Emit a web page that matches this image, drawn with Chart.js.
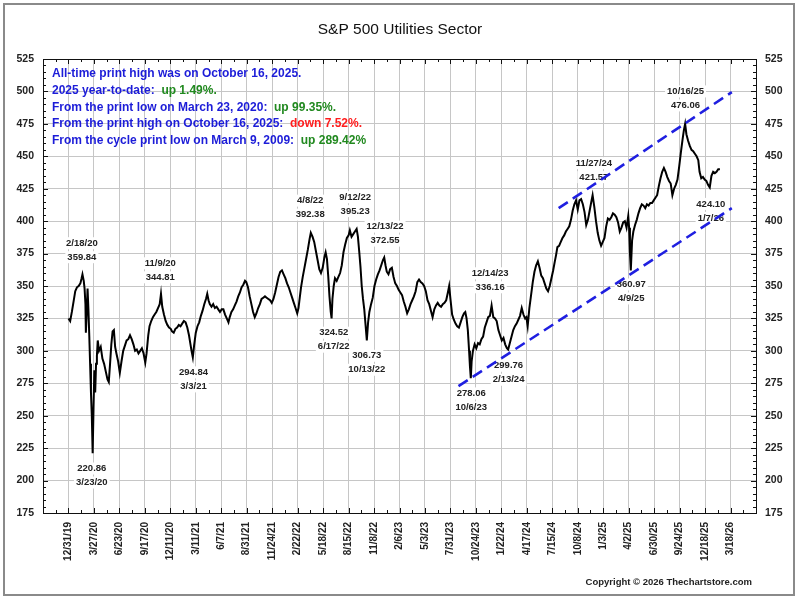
<!DOCTYPE html>
<html>
<head>
  <meta charset="utf-8">
  <title>S&amp;P 500 Utilities Sector</title>
  <script src="https://cdn.jsdelivr.net/npm/chart.js"></script>
  <style>
    html, body { margin: 0; padding: 0; background: #fff; }
    #wrap { position: relative; width: 798px; height: 598px; }
  </style>
</head>
<body>
<div id="wrap"><canvas id="chart"></canvas></div>
<script>
const FONT = '"Liberation Sans", Arial, sans-serif';

// one axis label every 60 trading days, first one is 12/31/19 (day 0)
const tickLabels = ['12/31/19', '3/27/20', '6/23/20', '9/17/20', '12/11/20', '3/11/21', '6/7/21',
  '8/31/21', '11/24/21', '2/22/22', '5/18/22', '8/15/22', '11/8/22', '2/6/23', '5/3/23',
  '7/31/23', '10/24/23', '1/22/24', '4/17/24', '7/15/24', '10/8/24', '1/3/25', '4/2/25',
  '6/30/25', '9/24/25', '12/18/25', '3/18/26'];

// index level (x = trading days since 12/31/19)
const tradingDay = [
  0, 4, 8, 12, 16, 20, 24, 28, 31, 33, 36, 38, 40, 41, 43, 45, 47, 49, 51, 53, 55, 57, 59, 61, 63, 65, 67, 69,
  72, 76, 80, 84, 88, 92, 95, 98, 101, 104, 107, 110, 113, 117, 121, 125, 129, 133, 137, 141, 145, 149, 153,
  157, 161, 165, 169, 173, 177, 181, 184, 188, 191, 195, 199, 203, 207, 211, 215, 218, 221, 225, 229, 233,
  237, 241, 244, 248, 252, 256, 260, 264, 268, 272, 276, 280, 284, 287, 290, 293, 296, 300, 304, 308, 312,
  316, 320, 324, 327, 330, 333, 337, 341, 345, 349, 353, 357, 361, 365, 369, 373, 377, 380, 384, 388, 392,
  396, 400, 404, 408, 412, 416, 419, 423, 427, 431, 435, 439, 443, 447, 451, 455, 459, 463, 467, 471, 475,
  479, 483, 487, 491, 495, 499, 503, 507, 511, 515, 519, 523, 527, 531, 535, 539, 542, 545, 548, 552, 556,
  560, 564, 568, 571, 575, 579, 583, 587, 591, 595, 599, 603, 606, 609, 612, 615, 618, 620, 622, 625, 628,
  632, 636, 640, 644, 648, 652, 656, 660, 663, 667, 671, 675, 679, 682, 685, 688, 691, 694, 697, 700, 703,
  706, 709, 713, 717, 721, 725, 729, 733, 737, 741, 744, 747, 750, 754, 758, 762, 766, 770, 774, 778, 782,
  786, 790, 794, 798, 802, 806, 810, 814, 818, 822, 826, 830, 834, 838, 842, 846, 850, 854, 858, 862, 866,
  870, 874, 878, 882, 886, 890, 894, 897, 900, 904, 908, 912, 916, 920, 924, 928, 932, 935, 938, 941, 944,
  946, 948, 950, 953, 957, 961, 965, 969, 973, 977, 981, 985, 989, 993, 997, 1001, 1005, 1009, 1013, 1017,
  1021, 1025, 1029, 1033, 1036, 1040, 1044, 1048, 1052, 1056, 1060, 1064, 1068, 1072, 1076, 1079, 1082,
  1086, 1090, 1094, 1098, 1102, 1106, 1110, 1114, 1118, 1122, 1126, 1130, 1134, 1138, 1142, 1146, 1149,
  1152, 1156, 1160, 1164, 1168, 1172, 1176, 1180, 1184, 1188, 1192, 1196, 1200, 1204, 1208, 1212, 1216,
  1220, 1224, 1228, 1232, 1235, 1239, 1243, 1247, 1251, 1255, 1259, 1263, 1267, 1271, 1275, 1279, 1283,
  1287, 1291, 1295, 1299, 1303, 1307, 1311, 1315, 1319, 1321, 1323, 1325, 1328, 1331, 1335, 1339, 1343,
  1347, 1351, 1355, 1359, 1363, 1367, 1371, 1375, 1379, 1383, 1387, 1391, 1395, 1399, 1403, 1407, 1411,
  1415, 1419, 1423, 1427, 1431, 1435, 1439, 1443, 1447, 1450, 1453, 1456, 1460, 1464, 1468, 1472, 1476,
  1480, 1484, 1487, 1491, 1495, 1499, 1503, 1507, 1511, 1515, 1519, 1523, 1527, 1531, 1535
];
const indexLevel = [
  325, 323, 330, 338, 346, 349, 350, 352, 356, 359, 354, 348, 336, 314, 330, 348, 332, 312, 290, 268, 250, 221, 255, 285, 268, 290, 296, 308,
  300, 303, 294, 290, 284, 278, 276, 290, 305, 315, 316, 303, 298, 292, 283, 292, 300, 304, 308, 309, 312, 309, 305,
  300, 301, 298, 300, 302, 298, 291, 298, 312, 319, 323, 326, 328, 330, 333, 336, 344, 334, 328, 323, 320,
  318, 317, 315, 314, 317, 318, 320, 319, 321, 323, 322, 318, 312, 306, 300, 295, 304, 314, 319, 322, 327,
  331, 336, 340, 344, 339, 336, 334, 336, 333, 334, 332, 330, 332, 332, 328, 325, 322, 326, 330, 332, 335,
  338, 342, 345, 349, 351, 354, 353, 349, 342, 336, 330, 326, 329, 333, 336, 340, 341, 342, 341, 340, 339,
  337, 340, 345, 351, 357, 361, 362, 359, 356, 352, 349, 345, 341, 337, 333, 329, 333, 341, 349, 357, 364,
  371, 378, 386, 391, 388, 384, 377, 370, 363, 360, 364, 372, 376, 371, 358, 342, 330, 325, 340, 350, 356,
  354, 357, 360, 366, 376, 382, 387, 389, 393, 388, 390, 392, 394, 388, 377, 365, 350, 340, 332, 320, 308,
  322, 330, 336, 341, 350, 355, 359, 362, 366, 370, 372, 366, 361, 359, 363, 364, 357, 352, 350, 347, 345,
  343, 338, 334, 329, 332, 336, 339, 342, 346, 353, 355, 353, 352, 350, 346, 339, 336, 331, 326, 332, 335,
  337, 335, 334, 336, 337, 339, 345, 350, 340, 328, 324, 321, 319, 318, 322, 326, 329, 330, 325, 316, 300,
  288, 279, 292, 300, 305, 302, 306, 305, 309, 311, 318, 322, 326, 327, 335, 326, 325, 323, 316, 312,
  308, 310, 305, 302, 301, 306, 311, 316, 319, 321, 324, 327, 333, 328, 325, 326, 319,
  333, 343, 353, 361, 366, 369, 364, 358, 356, 352, 348, 346, 350, 356, 362, 369, 374,
  380, 381, 384, 387, 389, 392, 394, 396, 401, 408, 413, 416, 409, 416, 417, 413, 407,
  397, 401, 408, 415, 420, 411, 400, 391, 385, 381, 384, 387, 396, 402, 401, 403, 406,
  405, 403, 399, 392, 395, 399, 400, 395, 404, 395, 375, 362, 385, 392, 397, 401, 406,
  410, 413, 412, 410, 413, 412, 414, 414, 416, 418, 420, 427, 433, 438, 441, 438, 434,
  431, 429, 420, 425, 428, 432, 442, 453, 463, 470, 475, 467, 462, 458, 455, 454, 452,
  450, 447, 438, 433, 434, 432, 431, 428, 426, 435, 438, 437, 438, 440, 440
];

// blue dashed channel
const lowerTrendDay = [919, 1563];
const lowerTrendLevel = [272.8, 410];
const upperTrendDay = [1155, 1563];
const upperTrendLevel = [410, 499.5];

// notes: anchor (day, level) is the centre of the first text line
const noteDay =   [31.6, 55, 216.4, 294.6, 569.5, 675.5, 746, 625, 703, 993.6, 949, 1037, 1238, 1326, 1454, 1513.6];
const noteLevel = [383, 209.3, 367.5, 283.4, 415.8, 418.5, 395.8, 314, 296.2, 359.8, 267.2, 288.5, 444.7, 351.2, 500, 413.3];
const noteTop =    ['2/18/20', '220.86', '11/9/20', '294.84', '4/8/22', '9/12/22', '12/13/22', '324.52', '306.73',
  '12/14/23', '278.06', '299.76', '11/27/24', '360.97', '10/16/25', '424.10'];
const noteBottom = ['359.84', '3/23/20', '344.81', '3/3/21', '392.38', '395.23', '372.55', '6/17/22', '10/13/22',
  '336.16', '10/6/23', '2/13/24', '421.57', '4/9/25', '476.06', '1/7/26'];

const infoLines = [
  [['All-time print high was on October 16, 2025.', 'blue']],
  [['2025 year-to-date:  ', 'blue'], ['up 1.49%.', 'green']],
  [['From the print low on March 23, 2020:  ', 'blue'], ['up 99.35%.', 'green']],
  [['From the print high on October 16, 2025:  ', 'blue'], ['down 7.52%.', 'red']],
  [['From the cycle print low on March 9, 2009:  ', 'blue'], ['up 289.42%', 'green']]
];
const infoColors = { blue: '#1c1cd8', green: '#21891f', red: '#ff1c1c' };

const DAYS_PER_TICK = 60;

const toPoints = (xs, ys) => xs.map((d, i) => ({ x: d, y: ys[i] }));

const decor = {
  id: 'decor',
  beforeDatasetsDraw(chart) {
    const { ctx, scales } = chart;
    ctx.save();
    ctx.font = 'bold 9.5px ' + FONT;
    ctx.textAlign = 'center';
    ctx.textBaseline = 'middle';
    noteDay.forEach((d, i) => {
      const px = scales.x.getPixelForValue(d);
      const py = scales.y.getPixelForValue(noteLevel[i]);
      [noteTop[i], noteBottom[i]].forEach((t, k) => {
        const ty = py + k * 14;
        const w = ctx.measureText(t).width;
        ctx.fillStyle = '#fff';
        ctx.fillRect(px - w / 2 - 2, ty - 6, w + 4, 12);
        ctx.fillStyle = '#222';
        ctx.fillText(t, px, ty);
      });
    });
    ctx.restore();
  },
  afterDraw(chart) {
    const { ctx, chartArea: a, scales } = chart;
    ctx.save();

    // plot frame
    ctx.strokeStyle = '#111';
    ctx.lineWidth = 1;
    ctx.strokeRect(Math.round(a.left) + 0.5, Math.round(a.top) + 0.5,
      Math.round(a.right - a.left), Math.round(a.bottom - a.top));

    // small inward ticks on all four sides
    ctx.beginPath();
    for (let v = 175; v <= 525; v += 5) {
      const py = Math.round(scales.y.getPixelForValue(v)) + 0.5;
      const len = v % 25 === 0 ? 5 : 3;
      ctx.moveTo(a.left, py); ctx.lineTo(a.left + len, py);
      ctx.moveTo(a.right, py); ctx.lineTo(a.right - len, py);
    }
    for (let d = -60; d <= 1620; d += 30) {
      const px = Math.round(scales.x.getPixelForValue(d)) + 0.5;
      const len = d % 60 === 0 ? 5 : 3;
      ctx.moveTo(px, a.top); ctx.lineTo(px, a.top + len);
      ctx.moveTo(px, a.bottom); ctx.lineTo(px, a.bottom - len);
    }
    ctx.stroke();

    // text block, top left
    ctx.font = 'bold 12px ' + FONT;
    ctx.textAlign = 'left';
    ctx.textBaseline = 'middle';
    infoLines.forEach((line, i) => {
      let tx = a.left + 9;
      const ty = a.top + 15 + i * 16.7;
      line.forEach(([txt, col]) => {
        ctx.fillStyle = infoColors[col];
        ctx.fillText(txt, tx, ty);
        tx += ctx.measureText(txt).width;
      });
    });

    // title
    ctx.font = '15.5px ' + FONT;
    ctx.fillStyle = '#111';
    ctx.textAlign = 'center';
    ctx.fillText('S&P 500 Utilities Sector', 400, 30);

    // copyright
    ctx.font = 'bold 9.5px ' + FONT;
    ctx.textAlign = 'right';
    ctx.fillStyle = '#222';
    ctx.fillText('Copyright \u00a9 2026 Thechartstore.com', 752, 582);

    // outer frame
    ctx.strokeStyle = '#8a8a8a';
    ctx.lineWidth = 2;
    ctx.strokeRect(4, 4, 790, 591);
    ctx.restore();
  }
};

const tickFont = { family: FONT, size: 10.5, weight: 'bold' };

new Chart(document.getElementById('chart'), {
  type: 'line',
  data: {
    datasets: [
      {
        label: 'S&P 500 Utilities',
        data: toPoints(tradingDay, indexLevel),
        borderColor: '#000',
        borderWidth: 2,
        pointRadius: 0,
        tension: 0,
        order: 1
      },
      {
        label: 'lower channel',
        data: toPoints(lowerTrendDay, lowerTrendLevel),
        borderColor: '#1f1fe0',
        borderWidth: 2.6,
        borderDash: [11, 6],
        pointRadius: 0,
        order: 0
      },
      {
        label: 'upper channel',
        data: toPoints(upperTrendDay, upperTrendLevel),
        borderColor: '#1f1fe0',
        borderWidth: 2.6,
        borderDash: [11, 6],
        pointRadius: 0,
        order: 0
      }
    ]
  },
  options: {
    responsive: true,
    maintainAspectRatio: false,
    animation: false,
    events: [],
    layout: { padding: { top: 59, left: 0, right: 0, bottom: 0 } },
    plugins: { legend: { display: false }, tooltip: { enabled: false } },
    scales: {
      x: {
        type: 'linear',
        min: -60,
        max: 1620,
        grid: { color: '#c6c6c6', drawTicks: false },
        border: { display: false },
        ticks: {
          stepSize: DAYS_PER_TICK,
          autoSkip: false,
          minRotation: 90,
          maxRotation: 90,
          padding: 9,
          color: '#222',
          font: { family: FONT, size: 10, weight: 'bold' },
          callback: (v) => {
            const i = Math.round(v / DAYS_PER_TICK);
            return v >= 0 && i < tickLabels.length ? tickLabels[i] : '';
          }
        },
        afterFit: (s) => { s.height = 85; }
      },
      y: {
        position: 'left',
        min: 175,
        max: 525,
        grid: { color: '#c6c6c6', drawTicks: false },
        border: { display: false },
        ticks: { stepSize: 25, padding: 9, color: '#222', font: tickFont },
        afterFit: (s) => { s.width = 43; }
      },
      y2: {
        position: 'right',
        min: 175,
        max: 525,
        grid: { display: false, drawTicks: false },
        border: { display: false },
        ticks: { stepSize: 25, padding: 9, color: '#222', font: tickFont },
        afterFit: (s) => { s.width = 42; }
      }
    }
  },
  plugins: [decor]
});
</script>
</body>
</html>
